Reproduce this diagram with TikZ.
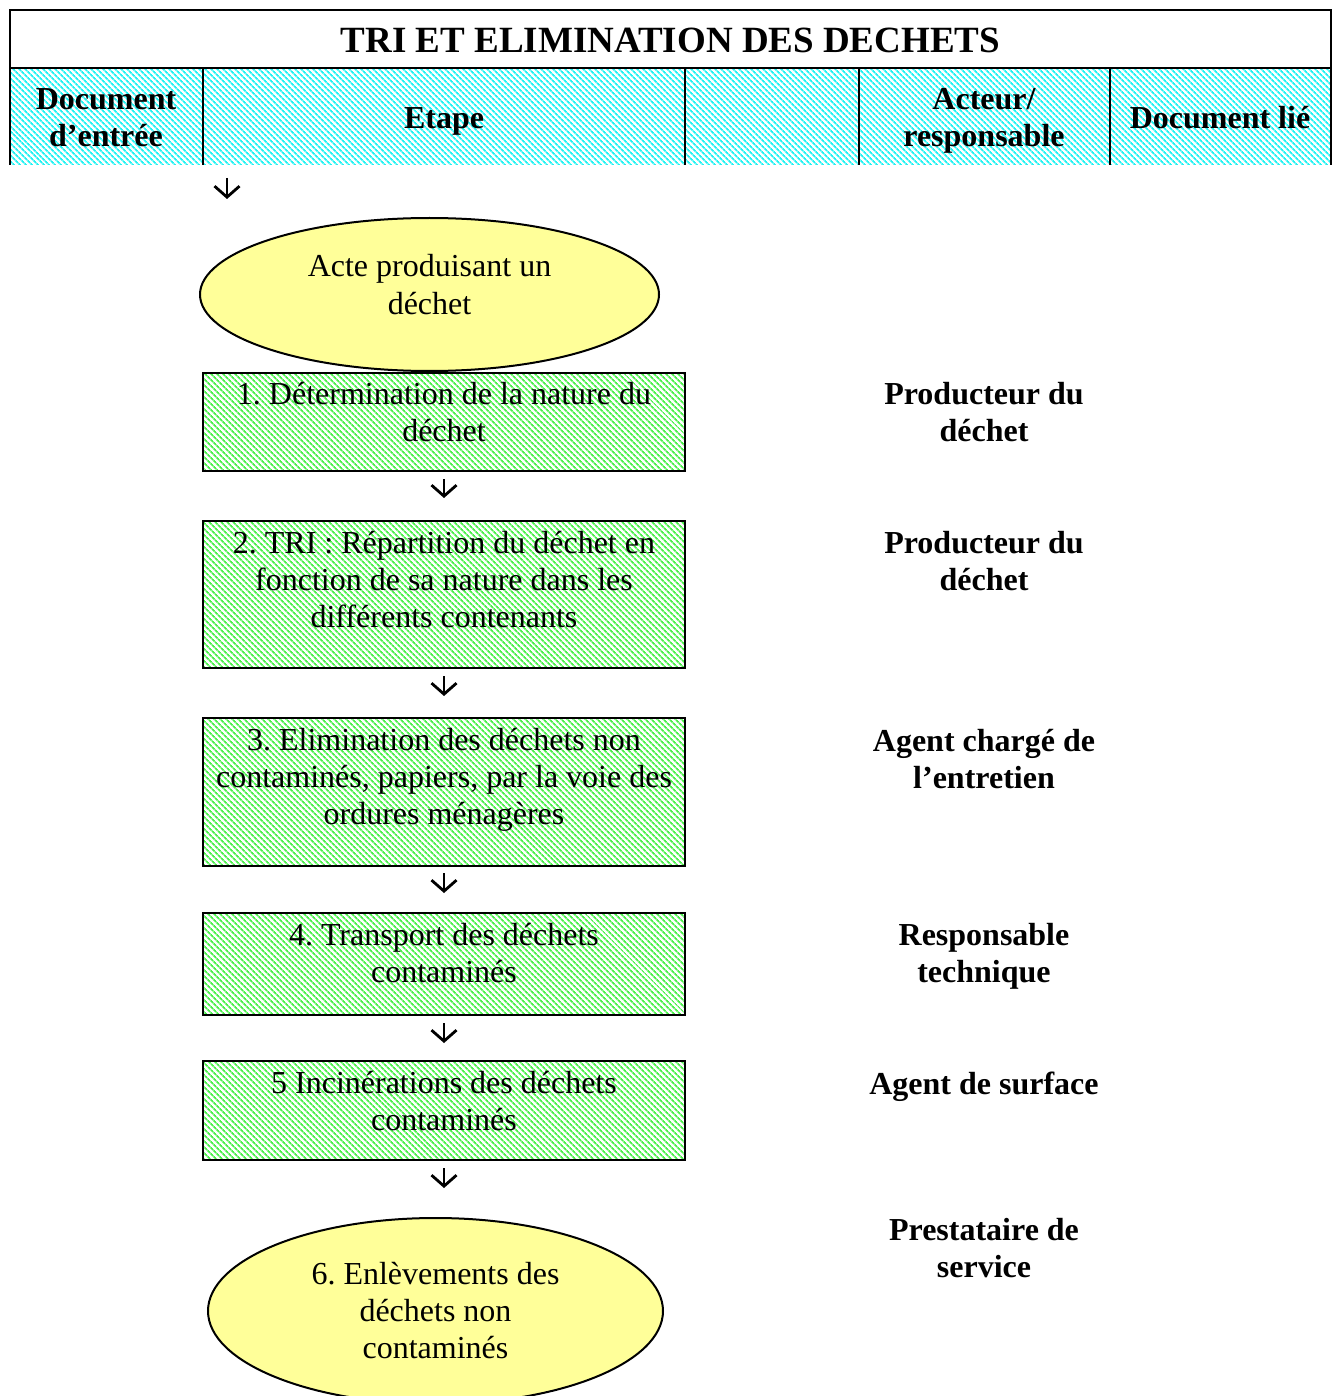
\documentclass[tikz,border=0pt]{standalone}
\usepackage{fontspec}
\setmainfont{Liberation Serif}
\usetikzlibrary{shapes.geometric, arrows.meta, patterns.meta}

\definecolor{termyellow}{HTML}{FFFF99}
\definecolor{headcyan}{HTML}{22F2F2}
\definecolor{stepgreen}{HTML}{4CF04C}

% centred multi-line text whose baseline is that of its first line
\newcommand{\stack}[2]{\parbox[t]{#1}{\centering #2}}

\tikzset{
  x=1pt, y=-1pt,
  rule/.style={line width=2pt},
  headhatch/.style={pattern={Lines[angle=-45,distance=4pt,line width=1.9pt]}, pattern color=headcyan},
  stepbox/.style={rectangle, draw, line width=2pt, minimum width=482pt, inner sep=0pt,
    preaction={fill=white},
    pattern={Lines[angle=-45,distance=4pt,line width=1.9pt]}, pattern color=stepgreen},
  endpoint/.style={ellipse, draw, line width=2pt, fill=termyellow, inner sep=0pt},
  body/.style={font=\fontsize{32}{37}\selectfont, anchor=base, inner sep=0pt},
  head/.style={font=\bfseries\fontsize{32}{37}\selectfont, anchor=base, inner sep=0pt},
  titletext/.style={font=\bfseries\fontsize{37}{42}\selectfont, anchor=base, inner sep=0pt},
  flow/.style={line width=2.8pt, -{Straight Barb[length=11pt,width=25pt]}},
}

\frenchspacing

\begin{document}
\begin{tikzpicture}
\clip (0,0) rectangle (1336,1396);
\fill[white] (0,0) rectangle (1336,1396);

% table header
\fill[headhatch] (10,68) rectangle (1331,165);
\draw[rule] (10,165) -- (10,10) -- (1331,10) -- (1331,165);
\draw[rule] (10,68) -- (1331,68);
\foreach \x in {203,685,859,1110} \draw[rule] (\x,68) -- (\x,165);

\node[titletext] (title) at (670.5,53) {TRI ET ELIMINATION DES DECHETS};
\node[head] (hdoc) at (106,110) {\stack{190pt}{Document\\d’entrée}};
\node[head] (hstep) at (444,129) {Etape};
\node[head] (hactor) at (984,110) {\stack{240pt}{Acteur/\\responsable}};
\node[head] (hlinked) at (1220,129) {Document lié};

% process steps
\node[endpoint, minimum width=459pt, minimum height=153pt] (start) at (429.5,294.5) {};
\node[body] (startT) at (429.5,277) {\stack{420pt}{Acte produisant un\\déchet}};

\node[stepbox, minimum height=98pt] (b1) at (444,422) {};
\node[body] (b1T) at (444,404) {\stack{470pt}{1. Détermination de la nature du\\déchet}};

\node[stepbox, minimum height=147pt] (b2) at (444,594.5) {};
\node[body] (b2T) at (444,553) {\stack{470pt}{2. TRI : Répartition du déchet en\\fonction de sa nature dans les\\différents contenants}};

\node[stepbox, minimum height=148pt] (b3) at (444,792) {};
\node[body] (b3T) at (444,750) {\stack{476pt}{3. Elimination des déchets non\\contaminés, papiers, par la voie des\\ordures ménagères}};

\node[stepbox, minimum height=102pt] (b4) at (444,964) {};
\node[body] (b4T) at (444,945) {\stack{470pt}{4. Transport des déchets\\contaminés}};

\node[stepbox, minimum height=99pt] (b5) at (444,1110.5) {};
\node[body] (b5T) at (444,1093) {\stack{470pt}{5 Incinérations des déchets\\contaminés}};

\node[endpoint, minimum width=455pt, minimum height=186pt] (e6) at (435.5,1311) {};
\node[body] (e6T) at (435.5,1284) {\stack{420pt}{6. Enlèvements des\\déchets non\\contaminés}};

% actors
\node[head] (a1) at (984,404) {\stack{300pt}{Producteur du\\déchet}};
\node[head] (a2) at (984,553) {\stack{300pt}{Producteur du\\déchet}};
\node[head] (a3) at (984,751) {\stack{300pt}{Agent chargé de\\l’entretien}};
\node[head] (a4) at (984,945) {\stack{300pt}{Responsable\\technique}};
\node[head] (a5) at (984,1094) {Agent de surface};
\node[head] (a6) at (984,1240) {\stack{300pt}{Prestataire de\\service}};

% connectors
\coordinate (in0) at (227,178);
\coordinate (in1) at (227,199);
\draw[flow] (in0) -- (in1);
\draw[flow, shorten <=7pt, shorten >=22pt] (b1) -- (b2);
\draw[flow, shorten <=7pt, shorten >=21pt] (b2) -- (b3);
\draw[flow, shorten <=6pt, shorten >=19pt] (b3) -- (b4);
\draw[flow, shorten <=7pt, shorten >=17pt] (b4) -- (b5);
\draw[flow, shorten <=7pt, shorten >=29pt] (b5.south) -- (b5.south |- e6.north);
\end{tikzpicture}
\end{document}
